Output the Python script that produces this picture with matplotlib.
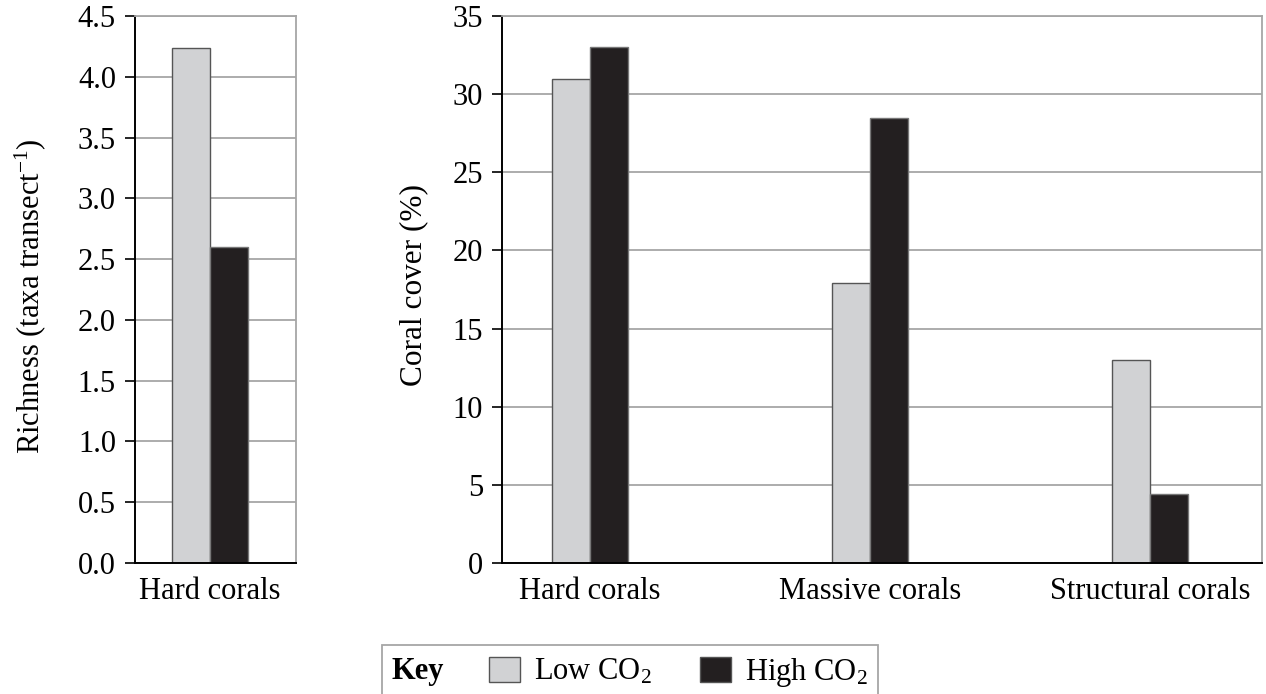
import matplotlib
matplotlib.use("Agg")
import matplotlib.pyplot as plt
from matplotlib.patches import Patch, Rectangle
import numpy as np

plt.rcParams['font.family'] = ['Liberation Serif', 'DejaVu Serif']
plt.rcParams['mathtext.fontset'] = 'custom'
plt.rcParams['mathtext.rm'] = 'Liberation Serif'
plt.rcParams['mathtext.it'] = 'Liberation Serif:italic'
plt.rcParams['mathtext.bf'] = 'Liberation Serif:bold'

# richness panel
rich_cats = ["Hard corals"]
rich_low = [4.24]
rich_high = [2.6]

# cover panel
cover_cats = ["Hard corals", "Massive corals", "Structural corals"]
cover_low = [31.0, 17.9, 13.0]
cover_high = [33.0, 28.5, 4.4]

rich_ticks = [0.0, 0.5, 1.0, 1.5, 2.0, 2.5, 3.0, 3.5, 4.0, 4.5]
cover_ticks = [0, 5, 10, 15, 20, 25, 30, 35]

low_col = '#d1d2d4'
high_col = '#231f20'
grid_col = '#a6a6a6'
w = 0.135
fs = 22

fig = plt.figure(figsize=(12.66, 6.94), dpi=100)
ax1 = fig.add_axes([0.1066, 0.1888, 0.1272, 0.788])
ax2 = fig.add_axes([0.3965, 0.1888, 0.6003, 0.788])

def style(ax, ticks, fmt):
    ax.set_axisbelow(True)
    ax.yaxis.grid(True, color=grid_col, lw=1.3)
    ax.set_yticks(ticks)
    ax.set_yticklabels([fmt.format(t) for t in ticks])
    ax.set_ylim(ticks[0], ticks[-1])
    ax.tick_params(axis='y', direction='out', length=7.2, width=1.2, pad=6.5, labelsize=fs)
    ax.tick_params(axis='x', length=0, pad=10, labelsize=fs)
    for s in ['top', 'right']:
        ax.spines[s].set_color(grid_col)
        ax.spines[s].set_linewidth(1.3)
    for s in ['left', 'bottom']:
        ax.spines[s].set_color('black')
        ax.spines[s].set_linewidth(1.4)

x1 = np.arange(len(rich_cats))
ax1.bar(x1 - w / 2, rich_low, w, color=low_col, edgecolor='#555555', lw=1)
ax1.bar(x1 + w / 2, rich_high, w, color=high_col, edgecolor='#777777', lw=1)
ax1.set_xticks(x1)
ax1.set_xticklabels(rich_cats)
ax1.set_xlim(-0.268, 0.307)
style(ax1, rich_ticks, "{:.1f}")
ax1.set_ylabel("Richness (taxa transect$^{-1}$)", fontsize=fs)
ax1.yaxis.set_label_coords(-0.54, 0.488)

x2 = np.arange(len(cover_cats))
ax2.bar(x2 - w / 2, cover_low, w, color=low_col, edgecolor='#555555', lw=1)
ax2.bar(x2 + w / 2, cover_high, w, color=high_col, edgecolor='#777777', lw=1)
ax2.set_xticks(x2)
ax2.set_xticklabels(cover_cats)
ax2.set_xlim(-0.314, 2.4)
style(ax2, cover_ticks, "{:d}")
ax2.set_ylabel("Coral cover (%)", fontsize=fs + 0.5)
ax2.yaxis.set_label_coords(-0.097, 0.508)

# key box, cut off by the bottom edge like the original
W, H = 1266, 694
fig.add_artist(Rectangle((382 / W, -0.05), (878 - 382) / W, (H - 645) / H + 0.05,
                         transform=fig.transFigure, fill=False,
                         edgecolor=grid_col, lw=1.3))
fig.text(392 / W, (H - 672) / H, "Key", fontsize=fs, fontweight='bold', va='center')

handles = [Patch(facecolor=low_col, edgecolor='#555555', lw=1),
           Patch(facecolor=high_col, edgecolor='#555555', lw=1)]
labels = ["Low CO$_2$", "High CO$_2$"]
leg = fig.legend(handles, labels, ncol=2, loc='upper left',
                 bbox_to_anchor=(489 / W, (H - 656) / H), fontsize=fs,
                 frameon=False, handlelength=1.0, handleheight=0.9,
                 handletextpad=0.46, columnspacing=1.6, borderpad=0,
                 borderaxespad=0)

fig.savefig("out.png", dpi=100)
